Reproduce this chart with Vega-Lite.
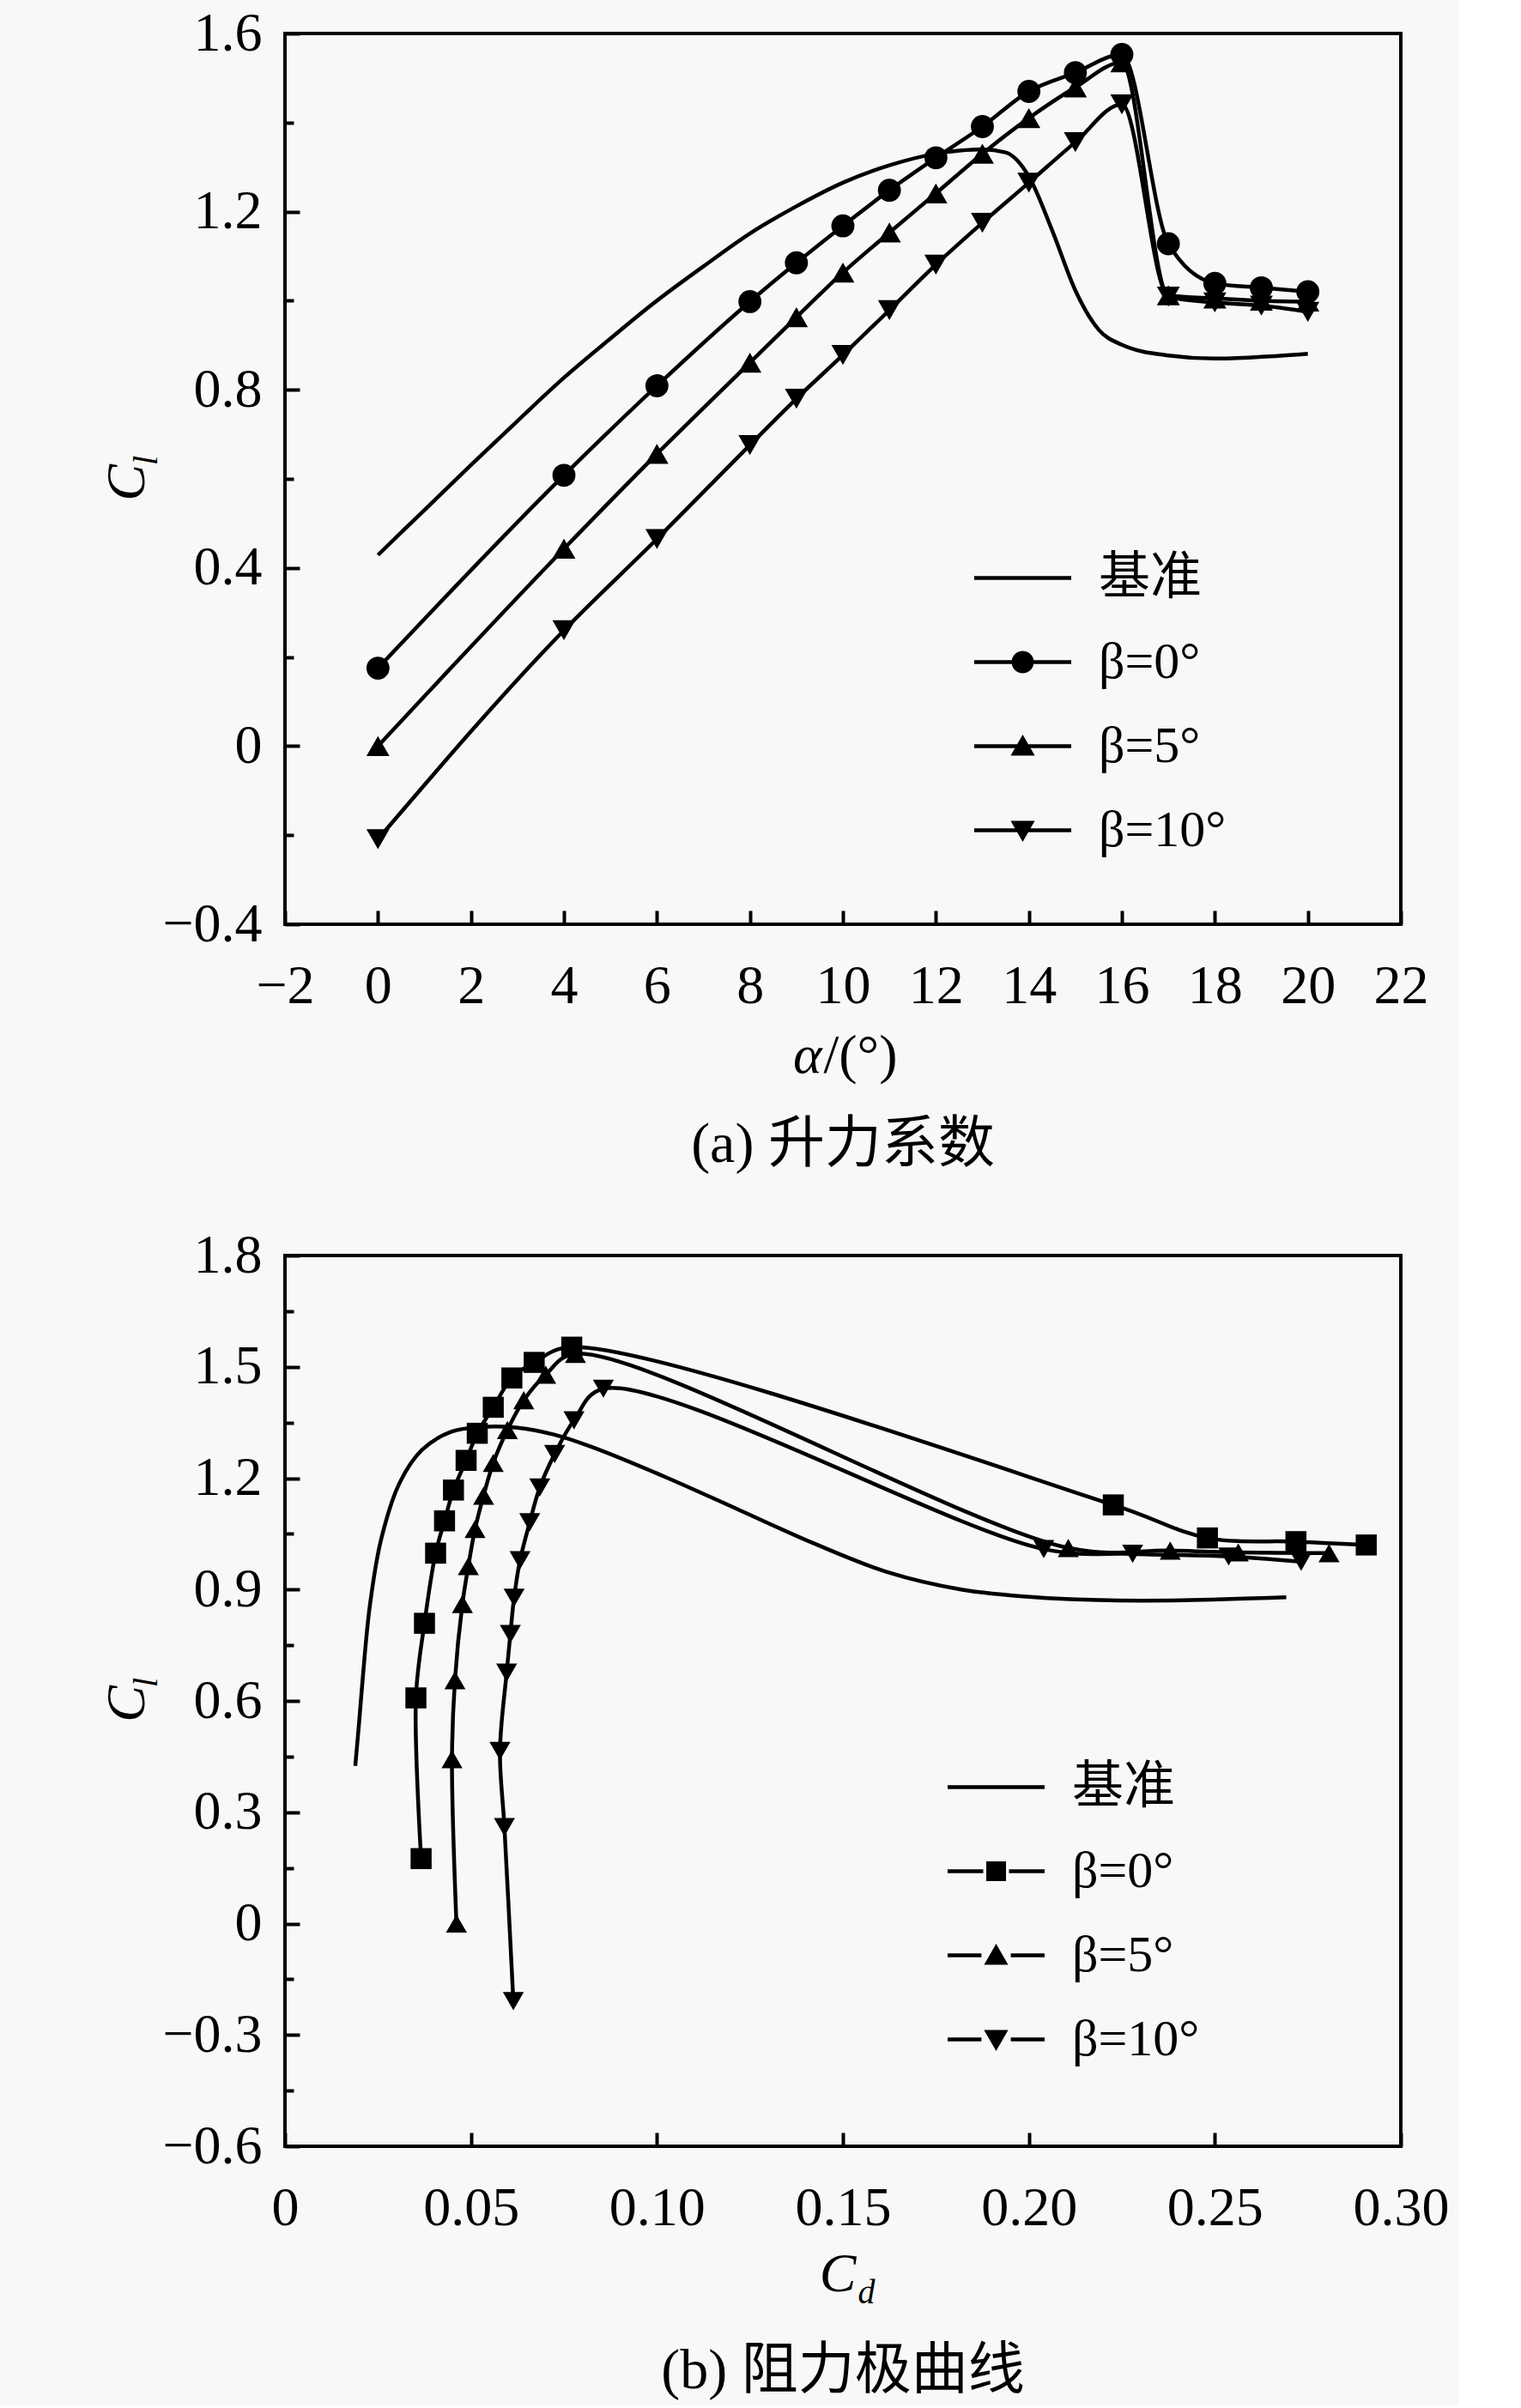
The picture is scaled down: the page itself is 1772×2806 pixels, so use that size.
{
  "$schema": "https://vega.github.io/schema/vega-lite/v6.json",
  "background": "#f8f8f8",
  "padding": {"left": 114, "top": 5, "right": 10, "bottom": 5},
  "datasets": {
    "lift": [
      {"series": "基准", "alpha": 0, "cl": 0.429},
      {"series": "基准", "alpha": 1, "cl": 0.53},
      {"series": "基准", "alpha": 2, "cl": 0.631},
      {"series": "基准", "alpha": 3, "cl": 0.73},
      {"series": "基准", "alpha": 4, "cl": 0.827},
      {"series": "基准", "alpha": 5, "cl": 0.915},
      {"series": "基准", "alpha": 6, "cl": 1.0},
      {"series": "基准", "alpha": 7, "cl": 1.077},
      {"series": "基准", "alpha": 8, "cl": 1.151},
      {"series": "基准", "alpha": 9, "cl": 1.212},
      {"series": "基准", "alpha": 10, "cl": 1.265},
      {"series": "基准", "alpha": 11, "cl": 1.304},
      {"series": "基准", "alpha": 12, "cl": 1.33},
      {"series": "基准", "alpha": 12.5, "cl": 1.337},
      {"series": "基准", "alpha": 13, "cl": 1.34},
      {"series": "基准", "alpha": 13.5, "cl": 1.333},
      {"series": "基准", "alpha": 14, "cl": 1.279},
      {"series": "基准", "alpha": 14.5, "cl": 1.158},
      {"series": "基准", "alpha": 15, "cl": 1.023},
      {"series": "基准", "alpha": 15.5, "cl": 0.935},
      {"series": "基准", "alpha": 16, "cl": 0.901},
      {"series": "基准", "alpha": 17, "cl": 0.877},
      {"series": "基准", "alpha": 18, "cl": 0.87},
      {"series": "基准", "alpha": 19, "cl": 0.874},
      {"series": "基准", "alpha": 20, "cl": 0.881},
      {"series": "β=0°", "alpha": 0, "cl": 0.175},
      {"series": "β=0°", "alpha": 4, "cl": 0.608},
      {"series": "β=0°", "alpha": 6, "cl": 0.809},
      {"series": "β=0°", "alpha": 8, "cl": 0.998},
      {"series": "β=0°", "alpha": 9, "cl": 1.085},
      {"series": "β=0°", "alpha": 10, "cl": 1.168},
      {"series": "β=0°", "alpha": 11, "cl": 1.248},
      {"series": "β=0°", "alpha": 12, "cl": 1.321},
      {"series": "β=0°", "alpha": 13, "cl": 1.391},
      {"series": "β=0°", "alpha": 14, "cl": 1.47},
      {"series": "β=0°", "alpha": 15, "cl": 1.512},
      {"series": "β=0°", "alpha": 16, "cl": 1.553},
      {"series": "β=0°", "alpha": 17, "cl": 1.128},
      {"series": "β=0°", "alpha": 18, "cl": 1.039},
      {"series": "β=0°", "alpha": 19, "cl": 1.029},
      {"series": "β=0°", "alpha": 20, "cl": 1.02},
      {"series": "β=5°", "alpha": 0, "cl": 0.0},
      {"series": "β=5°", "alpha": 4, "cl": 0.443},
      {"series": "β=5°", "alpha": 6, "cl": 0.656},
      {"series": "β=5°", "alpha": 8, "cl": 0.861},
      {"series": "β=5°", "alpha": 9, "cl": 0.963},
      {"series": "β=5°", "alpha": 10, "cl": 1.063},
      {"series": "β=5°", "alpha": 11, "cl": 1.153},
      {"series": "β=5°", "alpha": 12, "cl": 1.241},
      {"series": "β=5°", "alpha": 13, "cl": 1.33},
      {"series": "β=5°", "alpha": 14, "cl": 1.41},
      {"series": "β=5°", "alpha": 15, "cl": 1.479},
      {"series": "β=5°", "alpha": 16, "cl": 1.535},
      {"series": "β=5°", "alpha": 17, "cl": 1.012},
      {"series": "β=5°", "alpha": 18, "cl": 1.005},
      {"series": "β=5°", "alpha": 19, "cl": 1.0},
      {"series": "β=5°", "alpha": 20, "cl": 0.998},
      {"series": "β=10°", "alpha": 0, "cl": -0.209},
      {"series": "β=10°", "alpha": 4, "cl": 0.26},
      {"series": "β=10°", "alpha": 6, "cl": 0.465},
      {"series": "β=10°", "alpha": 8, "cl": 0.676},
      {"series": "β=10°", "alpha": 9, "cl": 0.78},
      {"series": "β=10°", "alpha": 10, "cl": 0.878},
      {"series": "β=10°", "alpha": 11, "cl": 0.979},
      {"series": "β=10°", "alpha": 12, "cl": 1.081},
      {"series": "β=10°", "alpha": 13, "cl": 1.175},
      {"series": "β=10°", "alpha": 14, "cl": 1.265},
      {"series": "β=10°", "alpha": 15, "cl": 1.356},
      {"series": "β=10°", "alpha": 16, "cl": 1.441},
      {"series": "β=10°", "alpha": 17, "cl": 1.009},
      {"series": "β=10°", "alpha": 18, "cl": 0.996},
      {"series": "β=10°", "alpha": 19, "cl": 0.989},
      {"series": "β=10°", "alpha": 20, "cl": 0.975}
    ],
    "polar": [
      {"series": "基准", "idx": 1, "cd": 0.0189, "cl": 0.425},
      {"series": "基准", "idx": 2, "cd": 0.02, "cl": 0.55},
      {"series": "基准", "idx": 3, "cd": 0.0209, "cl": 0.66},
      {"series": "基准", "idx": 4, "cd": 0.0228, "cl": 0.855},
      {"series": "基准", "idx": 5, "cd": 0.0258, "cl": 1.033},
      {"series": "基准", "idx": 6, "cd": 0.0308, "cl": 1.187},
      {"series": "基准", "idx": 7, "cd": 0.0368, "cl": 1.276},
      {"series": "基准", "idx": 8, "cd": 0.0447, "cl": 1.325},
      {"series": "基准", "idx": 9, "cd": 0.0526, "cl": 1.338},
      {"series": "基准", "idx": 10, "cd": 0.0626, "cl": 1.336},
      {"series": "基准", "idx": 11, "cd": 0.0725, "cl": 1.317},
      {"series": "基准", "idx": 12, "cd": 0.0825, "cl": 1.284},
      {"series": "基准", "idx": 13, "cd": 0.1023, "cl": 1.203},
      {"series": "基准", "idx": 14, "cd": 0.1222, "cl": 1.114},
      {"series": "基准", "idx": 15, "cd": 0.142, "cl": 1.025},
      {"series": "基准", "idx": 16, "cd": 0.1619, "cl": 0.947},
      {"series": "基准", "idx": 17, "cd": 0.1818, "cl": 0.9},
      {"series": "基准", "idx": 18, "cd": 0.2017, "cl": 0.879},
      {"series": "基准", "idx": 19, "cd": 0.2215, "cl": 0.871},
      {"series": "基准", "idx": 20, "cd": 0.2414, "cl": 0.871},
      {"series": "基准", "idx": 21, "cd": 0.2692, "cl": 0.879},
      {"series": "β=0°", "idx": 0, "cd": 0.0366, "cl": 0.175},
      {"series": "β=0°", "idx": 4, "cd": 0.0352, "cl": 0.608},
      {"series": "β=0°", "idx": 6, "cd": 0.0375, "cl": 0.809},
      {"series": "β=0°", "idx": 8, "cd": 0.0405, "cl": 0.998},
      {"series": "β=0°", "idx": 9, "cd": 0.0429, "cl": 1.085},
      {"series": "β=0°", "idx": 10, "cd": 0.0453, "cl": 1.168},
      {"series": "β=0°", "idx": 11, "cd": 0.0487, "cl": 1.248},
      {"series": "β=0°", "idx": 12, "cd": 0.0517, "cl": 1.321},
      {"series": "β=0°", "idx": 13, "cd": 0.056, "cl": 1.391},
      {"series": "β=0°", "idx": 14, "cd": 0.061, "cl": 1.47},
      {"series": "β=0°", "idx": 15, "cd": 0.067, "cl": 1.512},
      {"series": "β=0°", "idx": 16, "cd": 0.0771, "cl": 1.553},
      {"series": "β=0°", "idx": 17, "cd": 0.2227, "cl": 1.128},
      {"series": "β=0°", "idx": 18, "cd": 0.248, "cl": 1.039},
      {"series": "β=0°", "idx": 19, "cd": 0.2718, "cl": 1.029},
      {"series": "β=0°", "idx": 20, "cd": 0.2907, "cl": 1.02},
      {"series": "β=5°", "idx": 0, "cd": 0.0461, "cl": 0.0},
      {"series": "β=5°", "idx": 4, "cd": 0.0449, "cl": 0.443},
      {"series": "β=5°", "idx": 6, "cd": 0.0457, "cl": 0.656},
      {"series": "β=5°", "idx": 8, "cd": 0.0477, "cl": 0.861},
      {"series": "β=5°", "idx": 9, "cd": 0.0493, "cl": 0.963},
      {"series": "β=5°", "idx": 10, "cd": 0.0511, "cl": 1.063},
      {"series": "β=5°", "idx": 11, "cd": 0.0534, "cl": 1.153},
      {"series": "β=5°", "idx": 12, "cd": 0.056, "cl": 1.241},
      {"series": "β=5°", "idx": 13, "cd": 0.0598, "cl": 1.33},
      {"series": "β=5°", "idx": 14, "cd": 0.0642, "cl": 1.41},
      {"series": "β=5°", "idx": 15, "cd": 0.0701, "cl": 1.479},
      {"series": "β=5°", "idx": 16, "cd": 0.0781, "cl": 1.535},
      {"series": "β=5°", "idx": 17, "cd": 0.2106, "cl": 1.012},
      {"series": "β=5°", "idx": 18, "cd": 0.238, "cl": 1.005},
      {"series": "β=5°", "idx": 19, "cd": 0.2563, "cl": 1.0},
      {"series": "β=5°", "idx": 20, "cd": 0.2807, "cl": 0.998},
      {"series": "β=10°", "idx": 0, "cd": 0.0614, "cl": -0.209},
      {"series": "β=10°", "idx": 4, "cd": 0.059, "cl": 0.26},
      {"series": "β=10°", "idx": 6, "cd": 0.0578, "cl": 0.465},
      {"series": "β=10°", "idx": 8, "cd": 0.0596, "cl": 0.676},
      {"series": "β=10°", "idx": 9, "cd": 0.0606, "cl": 0.78},
      {"series": "β=10°", "idx": 10, "cd": 0.0616, "cl": 0.878},
      {"series": "β=10°", "idx": 11, "cd": 0.0632, "cl": 0.979},
      {"series": "β=10°", "idx": 12, "cd": 0.0658, "cl": 1.081},
      {"series": "β=10°", "idx": 13, "cd": 0.0685, "cl": 1.175},
      {"series": "β=10°", "idx": 14, "cd": 0.0725, "cl": 1.265},
      {"series": "β=10°", "idx": 15, "cd": 0.0777, "cl": 1.356},
      {"series": "β=10°", "idx": 16, "cd": 0.0856, "cl": 1.441},
      {"series": "β=10°", "idx": 17, "cd": 0.204, "cl": 1.009},
      {"series": "β=10°", "idx": 18, "cd": 0.2279, "cl": 0.996},
      {"series": "β=10°", "idx": 19, "cd": 0.2537, "cl": 0.989},
      {"series": "β=10°", "idx": 20, "cd": 0.2732, "cl": 0.975}
    ]
  },
  "bounds": "flush",
  "spacing": 386,
  "resolve": {"scale": {"shape": "independent"}, "legend": {"shape": "independent"}},
  "vconcat": [
    {
      "width": 1300,
      "height": 1038,
      "title": {"text": "(a) 升力系数", "orient": "bottom", "anchor": "middle", "offset": 40},
      "data": {"name": "lift"},
      "layer": [
        {
          "mark": {"type": "line", "interpolate": "monotone", "strokeWidth": 4.5, "color": "black"},
          "encoding": {
            "x": {
              "field": "alpha", "type": "quantitative",
              "scale": {"domain": [-2, 22], "nice": false, "zero": false},
              "axis": {
                "values": [-2, 0, 2, 4, 6, 8, 10, 12, 14, 16, 18, 20, 22],
                "format": "d", "tickSize": -16, "labelPadding": 56,
                "title": "α", "titleFontStyle": "italic", "titleAlign": "right",
                "titleBaseline": "alphabetic", "titleX": 625, "titleY": 172, "titleAngle": 0
              }
            },
            "y": {
              "field": "cl", "type": "quantitative",
              "scale": {"domain": [-0.4, 1.6], "nice": false, "zero": false},
              "axis": {
                "values": [-0.4, 0, 0.4, 0.8, 1.2, 1.6],
                "labelExpr": "datum.value === 0 ? '0' : format(datum.value, '.1f')",
                "tickSize": -17, "labelPadding": 44,
                "title": "C", "titleFontStyle": "italic", "titleAlign": "center",
                "titleBaseline": "alphabetic", "titleX": -165, "titleY": 523, "titleAngle": 270
              }
            },
            "detail": {"field": "series", "type": "nominal"}
          }
        },
        {
          "transform": [{"filter": "datum.series !== '基准'"}],
          "mark": {"type": "point", "filled": true, "opacity": 1, "color": "black", "size": 720},
          "encoding": {
            "x": {
              "field": "alpha", "type": "quantitative",
              "axis": {
                "orient": "bottom", "ticks": false, "labels": false,
                "title": "/(°)", "titleAlign": "left", "titleBaseline": "alphabetic",
                "titleX": 627, "titleY": 172, "titleAngle": 0
              }
            },
            "y": {
              "field": "cl", "type": "quantitative",
              "axis": {
                "orient": "left", "values": [-0.2, 0.2, 0.6, 1.0, 1.4],
                "tickSize": -10, "labels": false,
                "title": "l", "titleFontStyle": "italic", "titleFontSize": 40, "titleAlign": "center",
                "titleBaseline": "alphabetic", "titleX": -150, "titleY": 497, "titleAngle": 270
              }
            },
            "shape": {
              "field": "series", "type": "nominal", "legend": null,
              "scale": {"domain": ["β=0°", "β=5°", "β=10°"], "range": ["circle", "triangle-up", "triangle-down"]}
            }
          }
        },
        {
          "transform": [{"filter": "datum.alpha === 20"}],
          "mark": {"type": "point", "filled": true, "color": "black", "opacity": 0, "size": 1},
          "encoding": {
            "x": {"field": "alpha", "type": "quantitative", "axis": null},
            "y": {"field": "cl", "type": "quantitative", "axis": null},
            "shape": {
              "field": "series", "type": "nominal",
              "scale": {
                "domain": ["基准", "β=0°", "β=5°", "β=10°"],
                "range": [
                  "M-1.883,-0.075H1.883V0.075H-1.883Z",
                  "M-1.883,-0.075H1.883V0.075H-1.883ZM0.433,0A0.433,0.433,0,1,1,-0.433,0A0.433,0.433,0,1,1,0.433,0Z",
                  "M-1.883,-0.075H1.883V0.075H-1.883ZM0,-0.45L0.47,0.37L-0.47,0.37Z",
                  "M-1.883,-0.075H1.883V0.075H-1.883ZM0,0.45L-0.47,-0.37L0.47,-0.37Z"
                ]
              },
              "legend": {"orient": "none", "legendX": 827, "legendY": 602}
            }
          }
        }
      ],
      "resolve": {
        "axis": {"x": "independent", "y": "independent"},
        "scale": {"shape": "independent"},
        "legend": {"shape": "independent"}
      }
    },
    {
      "width": 1300,
      "height": 1038,
      "title": {"text": "(b) 阻力极曲线", "orient": "bottom", "anchor": "middle", "offset": 40},
      "data": {"name": "polar"},
      "layer": [
        {
          "mark": {"type": "line", "interpolate": "catmull-rom", "strokeWidth": 4.5, "color": "black"},
          "encoding": {
            "x": {
              "field": "cd", "type": "quantitative",
              "scale": {"domain": [0, 0.3], "nice": false},
              "axis": {
                "values": [0, 0.05, 0.1, 0.15, 0.2, 0.25, 0.3],
                "labelExpr": "datum.value === 0 ? '0' : format(datum.value, '.2f')",
                "tickSize": -16, "labelPadding": 56,
                "title": "C", "titleFontStyle": "italic", "titleAlign": "right",
                "titleBaseline": "alphabetic", "titleX": 665, "titleY": 168, "titleAngle": 0
              }
            },
            "y": {
              "field": "cl", "type": "quantitative",
              "scale": {"domain": [-0.6, 1.8], "nice": false, "zero": false},
              "axis": {
                "values": [-0.6, -0.3, 0, 0.3, 0.6, 0.9, 1.2, 1.5, 1.8],
                "labelExpr": "datum.value === 0 ? '0' : format(datum.value, '.1f')",
                "tickSize": -17, "labelPadding": 44,
                "title": "C", "titleFontStyle": "italic", "titleAlign": "center",
                "titleBaseline": "alphabetic", "titleX": -165, "titleY": 522, "titleAngle": 270
              }
            },
            "detail": {"field": "series", "type": "nominal"},
            "order": {"field": "idx", "type": "quantitative"}
          }
        },
        {
          "transform": [{"filter": "datum.series !== '基准'"}],
          "mark": {"type": "point", "filled": true, "opacity": 1, "color": "black", "size": 600},
          "encoding": {
            "x": {
              "field": "cd", "type": "quantitative",
              "axis": {
                "orient": "bottom", "ticks": false, "labels": false,
                "title": "d", "titleFontStyle": "italic", "titleFontSize": 40, "titleAlign": "left",
                "titleBaseline": "alphabetic", "titleX": 667, "titleY": 182, "titleAngle": 0
              }
            },
            "y": {
              "field": "cl", "type": "quantitative",
              "axis": {
                "orient": "left", "values": [-0.45, -0.15, 0.15, 0.45, 0.75, 1.05, 1.35, 1.65],
                "tickSize": -10, "labels": false,
                "title": "l", "titleFontStyle": "italic", "titleFontSize": 40, "titleAlign": "center",
                "titleBaseline": "alphabetic", "titleX": -150, "titleY": 497, "titleAngle": 270
              }
            },
            "shape": {
              "field": "series", "type": "nominal", "legend": null,
              "scale": {"domain": ["β=0°", "β=5°", "β=10°"], "range": ["square", "triangle-up", "triangle-down"]}
            }
          }
        },
        {
          "transform": [{"filter": "datum.idx === 20"}],
          "mark": {"type": "point", "filled": true, "color": "black", "opacity": 0, "size": 1},
          "encoding": {
            "x": {"field": "cd", "type": "quantitative", "axis": null},
            "y": {"field": "cl", "type": "quantitative", "axis": null},
            "shape": {
              "field": "series", "type": "nominal",
              "scale": {
                "domain": ["基准", "β=0°", "β=5°", "β=10°"],
                "range": [
                  "M-1.883,-0.075H1.883V0.075H-1.883Z",
                  "M-1.883,-0.075H-0.5V0.075H-1.883ZM0.5,-0.075H1.883V0.075H0.5ZM-0.383,-0.383H0.383V0.383H-0.383Z",
                  "M-1.883,-0.075H-0.57V0.075H-1.883ZM0.57,-0.075H1.883V0.075H0.57ZM0,-0.45L0.47,0.37L-0.47,0.37Z",
                  "M-1.883,-0.075H-0.57V0.075H-1.883ZM0.57,-0.075H1.883V0.075H0.57ZM0,0.45L-0.47,-0.37L0.47,-0.37Z"
                ]
              },
              "legend": {"orient": "none", "legendX": 796, "legendY": 587}
            }
          }
        }
      ],
      "resolve": {
        "axis": {"x": "independent", "y": "independent"},
        "scale": {"shape": "independent"},
        "legend": {"shape": "independent"}
      }
    }
  ],
  "config": {
    "font": "Liberation Serif, Noto Sans CJK SC",
    "view": {"stroke": "black", "strokeWidth": 4},
    "axis": {
      "domain": false, "grid": false, "tickColor": "black", "tickWidth": 4,
      "labelFont": "Liberation Serif", "labelFontSize": 64, "labelColor": "black",
      "labelFlush": false, "labelOverlap": false, "labelBound": false,
      "titleFont": "Liberation Serif, Noto Sans CJK SC", "titleFontSize": 64, "titleFontWeight": "normal", "titleColor": "black"
    },
    "legend": {
      "title": null, "padding": 0, "offset": 0,
      "labelFont": "Liberation Serif, Noto Sans CJK SC", "labelFontSize": 60, "labelColor": "black",
      "labelOffset": 56, "rowPadding": 35, "symbolSize": 3600, "symbolStrokeWidth": 4.5,
      "symbolOpacity": 1, "symbolFillColor": "black", "symbolStrokeColor": "black"
    },
    "title": {"font": "Liberation Serif, Noto Sans CJK SC", "fontSize": 66, "fontWeight": "normal", "color": "black"}
  }
}
